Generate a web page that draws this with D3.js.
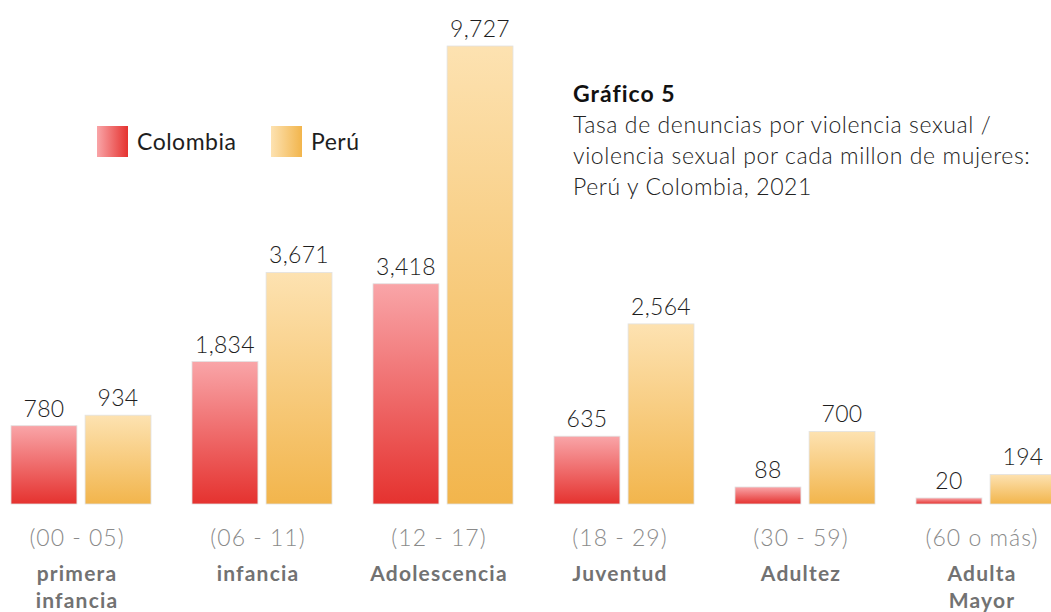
<!DOCTYPE html>
<html>
<head>
<meta charset="utf-8">
<script src="https://cdn.jsdelivr.net/npm/d3@7"></script>
<style>
  html, body { margin: 0; padding: 0; background: #fff; }
  svg { display: block; font-family: Lato, "Noto Sans", sans-serif; }
</style>
</head>
<body>
<svg id="chart"></svg>
<script>
const rangos = ["(00 - 05)", "(06 - 11)", "(12 - 17)", "(18 - 29)", "(30 - 59)", "(60 o más)"];
const etapas = [["primera", "infancia"], ["infancia"], ["Adolescencia"], ["Juventud"], ["Adultez"], ["Adulta", "Mayor"]];
const colombia = [780, 1834, 3418, 635, 88, 20];
const peru = [934, 3671, 9727, 2564, 700, 194];
const paises = ["Colombia", "Perú"];

const width = 1051,
  height = 612,
  baseY = 504,
  topY = 46;

const svg = d3.select("#chart").attr("width", width).attr("height", height);

// gradients
const defs = svg.append("defs");
const grad = [
  { id: "g-col", c0: "#f9a5a8", c1: "#e5322f" },
  { id: "g-per", c0: "#fde2b1", c1: "#f2b54c" },
];
grad.forEach((g) => {
  const v = defs.append("linearGradient").attr("id", g.id + "-v")
    .attr("x1", 0).attr("y1", 0).attr("x2", 0).attr("y2", 1);
  v.append("stop").attr("offset", "0%").attr("stop-color", g.c0);
  v.append("stop").attr("offset", "100%").attr("stop-color", g.c1);
  const h = defs.append("linearGradient").attr("id", g.id + "-h")
    .attr("x1", 0).attr("y1", 0).attr("x2", 1).attr("y2", 0);
  h.append("stop").attr("offset", "0%").attr("stop-color", g.c0);
  h.append("stop").attr("offset", "100%").attr("stop-color", g.c1);
});

const data = rangos.map((r, i) => ({
  rango: r,
  etapa: etapas[i],
  values: [
    { pais: "Colombia", value: colombia[i] },
    { pais: "Perú", value: peru[i] },
  ],
}));

const x0 = d3.scaleBand().domain(rangos).range([11, 1056]).paddingInner(0.2265).paddingOuter(0);
const x1 = d3.scaleBand().domain(paises).range([0, x0.bandwidth()]).paddingInner(0.11);
const y = d3.scalePow().exponent(0.7).domain([0, 9727]).range([baseY, topY]);
const fill = d3.scaleOrdinal().domain(paises).range(["g-col", "g-per"]);
const fmt = d3.format(",");

const groups = svg
  .selectAll(".grupo")
  .data(data)
  .enter()
  .append("g")
  .attr("class", "grupo")
  .attr("transform", (d) => `translate(${x0(d.rango)},0)`);

groups
  .selectAll("rect")
  .data((d) => d.values)
  .enter()
  .append("rect")
  .attr("x", (d) => x1(d.pais))
  .attr("y", (d) => y(d.value))
  .attr("width", x1.bandwidth())
  .attr("height", (d) => baseY - y(d.value))
  .attr("fill", (d) => `url(#${fill(d.pais)}-v)`)
  .attr("stroke", "#e2e2e2")
  .attr("stroke-width", 0.8);

groups
  .selectAll(".valor")
  .data((d) => d.values)
  .enter()
  .append("text")
  .attr("class", "valor")
  .attr("x", (d) => x1(d.pais) + x1.bandwidth() / 2)
  .attr("y", (d) => y(d.value) - 9)
  .attr("text-anchor", "middle")
  .attr("font-size", "23px")
  .attr("font-weight", 300)
  .attr("letter-spacing", "0.3px")
  .attr("fill", "#1e1e1e")
  .text((d) => fmt(d.value));

groups
  .append("text")
  .attr("x", x0.bandwidth() / 2 - 4)
  .attr("y", 546)
  .attr("text-anchor", "middle")
  .attr("font-size", "23px")
  .attr("font-weight", 300)
  .attr("letter-spacing", "1px")
  .attr("fill", "#8a8a8a")
  .text((d) => d.rango);

groups.each(function (d) {
  const t = d3.select(this)
    .append("text")
    .attr("text-anchor", "middle")
    .attr("font-size", "21px")
    .attr("font-weight", 700)
    .attr("letter-spacing", "1.2px")
    .attr("fill", "#727272");
  d.etapa.forEach((line, i) => {
    t.append("tspan")
      .attr("x", x0.bandwidth() / 2 - 4)
      .attr("y", 581 + i * 27)
      .text(line);
  });
});

// legend
const legend = svg.append("g").attr("transform", "translate(97,126)");
paises.forEach((p, i) => {
  const lg = legend.append("g").attr("transform", `translate(${i * 174},0)`);
  lg.append("rect")
    .attr("width", 31)
    .attr("height", 31)
    .attr("fill", `url(#${fill(p)}-h)`);
  lg.append("text")
    .attr("x", 40)
    .attr("y", 24)
    .attr("font-size", "23px")
    .attr("font-weight", 400)
    .attr("letter-spacing", "0.5px")
    .attr("fill", "#1e1e1e")
    .text(p);
});

// title
const title = svg.append("g").attr("transform", "translate(573,0)");
title.append("text")
  .attr("y", 102)
  .attr("font-size", "23px")
  .attr("font-weight", 700)
  .attr("letter-spacing", "1px")
  .attr("fill", "#111")
  .text("Gráfico 5");
["Tasa de denuncias por violencia sexual /",
 "violencia sexual por cada millon de mujeres:",
 "Perú y Colombia, 2021"].forEach((line, i) => {
  title.append("text")
    .attr("y", 133 + i * 31)
    .attr("font-size", "23px")
    .attr("font-weight", 300)
    .attr("letter-spacing", "0.6px")
    .attr("fill", "#222")
    .text(line);
});
</script>
</body>
</html>
